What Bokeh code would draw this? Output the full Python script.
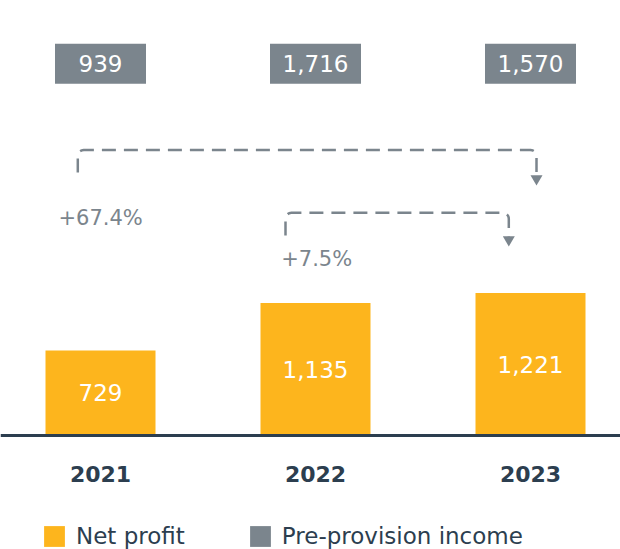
import numpy as np
from bokeh.plotting import figure
from bokeh.models import Range1d, Span, Legend, LegendItem
from bokeh.core.properties import value
from bokeh.embed import file_html
from bokeh.resources import INLINE

# ---- data ----
years = ["2021", "2022", "2023"]
net_profit = [729, 1135, 1221]
pre_provision = [939, 1716, 1570]
net_profit_labels = ["729", "1,135", "1,221"]
pre_provision_labels = ["939", "1,716", "1,570"]
growth_labels = ["+67.4%", "+7.5%"]
growth_from = [0, 1]
growth_to = [2, 2]

# ---- style / layout ----
ORANGE = "#FDB51D"
GRAY = "#7B858D"
DARK = "#2C3E4F"
FONT = "DejaVu Sans"

W, H = 620, 549
BASE = 435.0       # baseline position, px from top of figure
PX_X = 215.0       # px per category step
X0 = 100.0         # px of first category centre
K = 0.1167         # px per value unit

def ypx(py):
    return (BASE - py) / K

def xo(i, dpx):
    return i + dpx / PX_X

p = figure(width=W, height=H,
           x_range=Range1d(-X0 / PX_X, (W - X0) / PX_X),
           y_range=Range1d(-(H - BASE) / K, BASE / K),
           output_backend="svg", toolbar_location=None,
           x_axis_location=None, y_axis_location=None,
           min_border=0, outline_line_color=None,
           background_fill_color="white", border_fill_color="white")
p.grid.visible = False

xs = list(range(len(years)))

bars = p.vbar(x=xs, top=net_profit, bottom=0, width=110 / PX_X,
              fill_color=ORANGE, line_color=None)

p.add_layout(Span(location=0, dimension="width", line_color=DARK, line_width=3))

p.text(x=xs, y=[v / 2 for v in net_profit], text=net_profit_labels,
       text_align="center", text_baseline="middle",
       text_font=value(FONT), text_font_size="23px", text_color="white")

# pre-provision income boxes
box_y = [ypx(63.3)] * len(xs)
boxes = p.rect(x=xs, y=box_y, width=91, height=40,
               width_units="screen", height_units="screen",
               fill_color=GRAY, line_color=None)
p.text(x=xs, y=box_y, text=pre_provision_labels,
       text_align="center", text_baseline="middle",
       text_font=value(FONT), text_font_size="23px", text_color="white")

# year labels
p.text(x=xs, y=[ypx(473)] * len(xs), text=years,
       text_align="center", text_baseline="middle",
       text_font=value(FONT), text_font_size="22px", text_font_style="bold",
       text_color=DARK)

# growth brackets
def bracket(ia, dxa, ib, dxb, level, bottom, tip, r=6):
    xa, xb = xo(ia, dxa), xo(ib, dxb)
    rx, ry = r / PX_X, r / K
    px_ = [xa]
    py_ = [ypx(bottom)]
    t = np.linspace(np.pi, np.pi / 2, 8)
    cx, cy = xa + rx, ypx(level) - ry
    px_ += list(cx + rx * np.cos(t)); py_ += list(cy + ry * np.sin(t))
    t = np.linspace(np.pi / 2, 0, 8)
    cx, cy = xb - rx, ypx(level) - ry
    px_ += list(cx + rx * np.cos(t)); py_ += list(cy + ry * np.sin(t))
    px_.append(xb); py_.append(ypx(tip - 10))
    p.line(px_, py_, line_color=GRAY, line_width=2.5, line_dash="14 8")
    p.scatter([xb], [ypx(tip - 6.9)], marker="inverted_triangle", size=12,
              fill_color=GRAY, line_color=None)

bracket(growth_from[0], -22.7, growth_to[0], 6.0, 149.5, 172, 185)
bracket(growth_from[1], -30.0, growth_to[1], -21.7, 212.3, 235, 246)

p.text(x=[xo(growth_from[0], -42), xo(growth_from[1], -34.3)],
       y=[ypx(217), ypx(258)], text=growth_labels,
       text_align="left", text_baseline="middle",
       text_font=value(FONT), text_font_size="21px", text_color=GRAY)

legend = Legend(items=[LegendItem(label="Net profit", renderers=[bars]),
                       LegendItem(label="Pre-provision income", renderers=[boxes])],
                location=(41, 0), orientation="horizontal",
                glyph_width=26, glyph_height=26, label_height=26,
                label_standoff=9, spacing=62, padding=0, margin=0,
                border_line_color=None, background_fill_alpha=0,
                label_text_font=FONT, label_text_font_size="23px",
                label_text_color=DARK)
p.add_layout(legend)

open("out.html", "w").write(file_html(p, INLINE))
